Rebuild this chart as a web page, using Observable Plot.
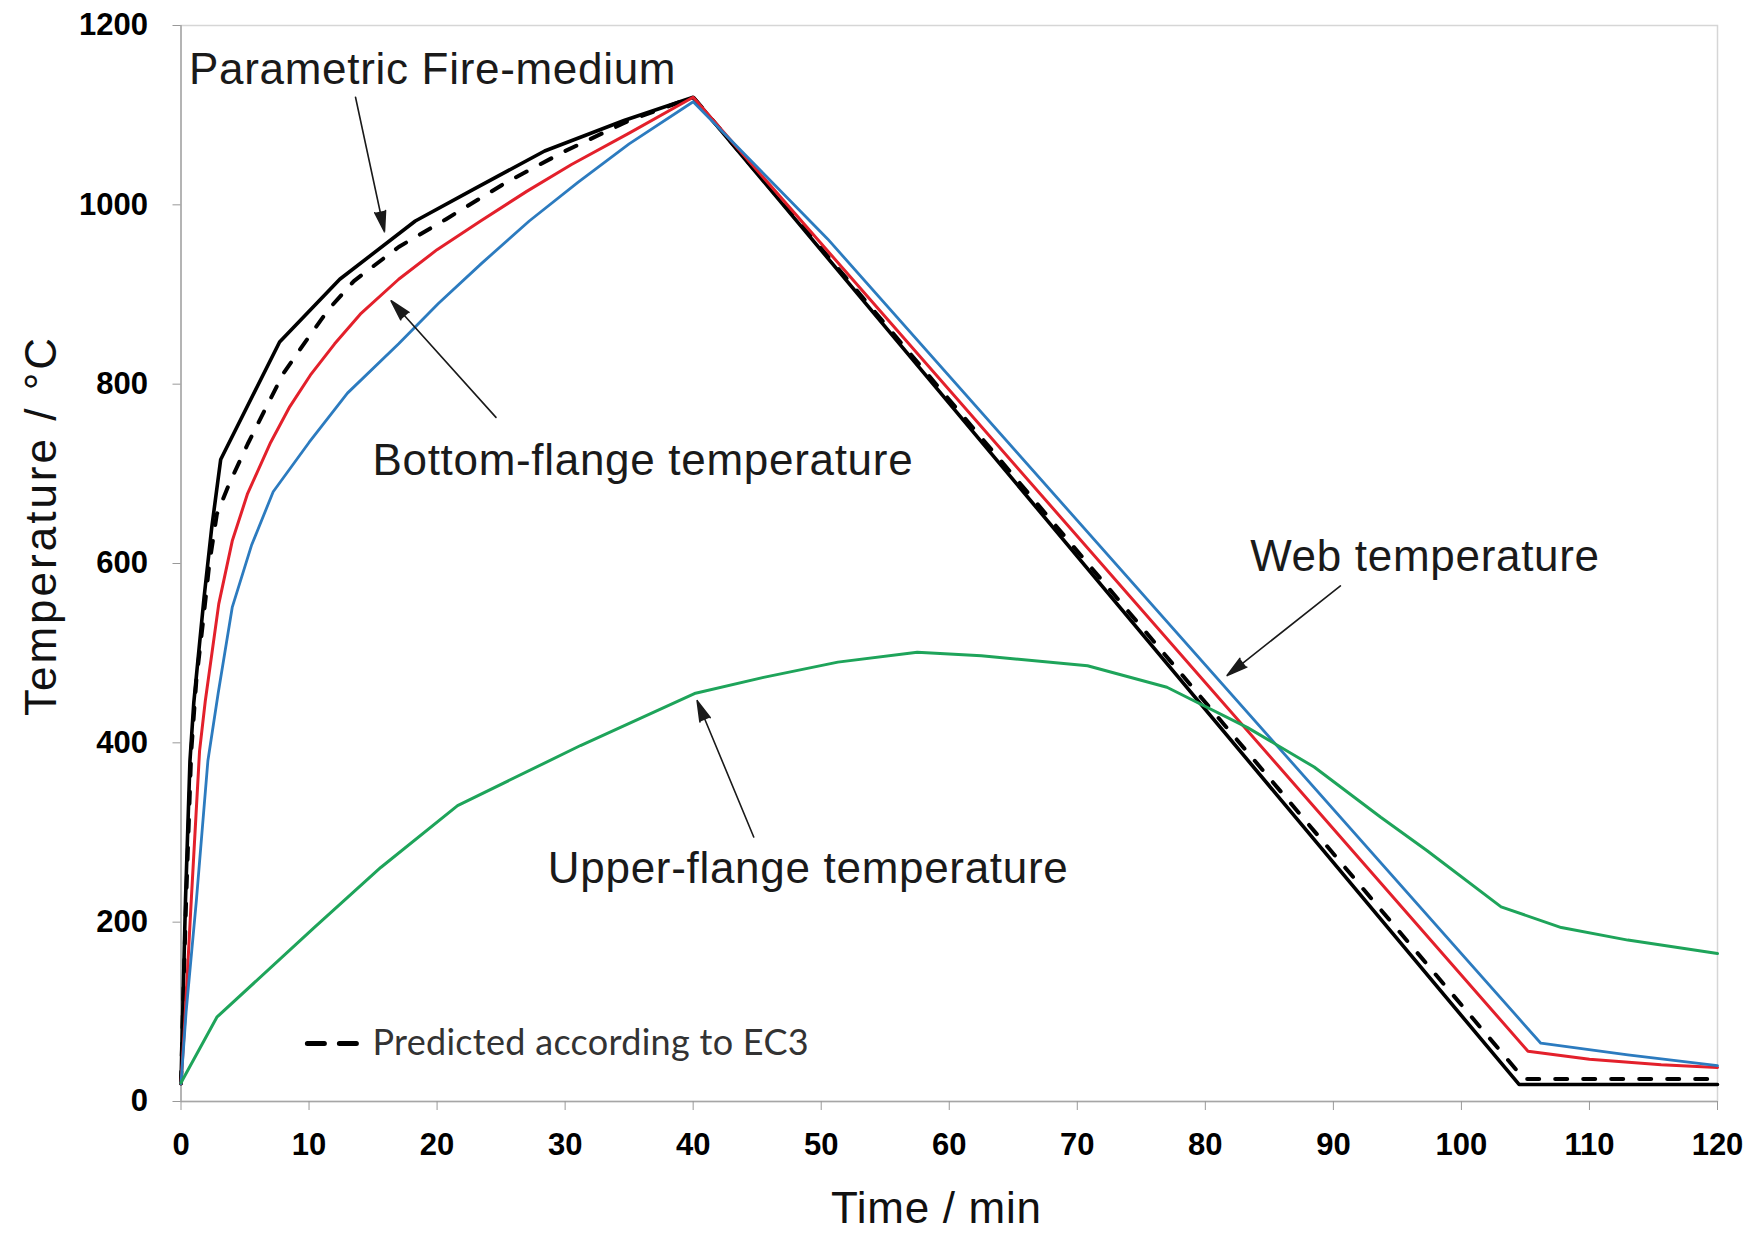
<!DOCTYPE html>
<html>
<head>
<meta charset="utf-8">
<script src="https://cdn.jsdelivr.net/npm/d3@7"></script>
<script src="https://cdn.jsdelivr.net/npm/@observablehq/plot@0.6"></script>
<style>
  html, body { margin: 0; padding: 0; background: #ffffff; }
  #chart { width: 1762px; height: 1234px; }
</style>
</head>
<body>
<div id="chart"></div>
<script>
// ---- Data (time in min, temperature in °C) ----
const xTicks = [0, 10, 20, 30, 40, 50, 60, 70, 80, 90, 100, 110, 120];
const yTicks = [0, 200, 400, 600, 800, 1000, 1200];

// Parametric fire - medium (black solid)
const fireMedium = [[0,20],[0.1,80],[0.35,224],[0.7,380],[1.0,445],[1.8,562],[2.4,640],[3.1,716],[7.7,847],[12.4,917],[18.3,982],[22.8,1017],[28.4,1060],[34.6,1094],[40,1120],[104.5,19],[120,19]];
// Predicted according to EC3 (black dashed)
const predictedEC3 = [[0,20],[0.15,100],[0.4,224],[0.8,390],[1.2,470],[1.8,545],[2.2,598],[2.8,655],[3.8,690],[5.2,733],[6.5,770],[8,812],[9.6,845],[11.5,883],[13.5,915],[17,953],[20.7,984],[25.4,1025],[30,1060],[35,1094],[40,1120],[104.9,25],[120,25]];
// Bottom-flange temperature (red)
const bottomFlange = [[0,20],[0.3,90],[0.8,224],[1.45,391],[1.9,447],[2.95,555],[4,625],[5.2,678],[7,735],[8.5,775],[10.1,810],[12,845],[14,878],[17,917],[20,950],[23.4,982],[27,1015],[30.5,1045],[35,1080],[40,1120],[105.2,56],[110,47],[115.6,41],[120,38]];
// Web temperature (blue)
const webTemp = [[0,20],[0.4,100],[1.2,224],[2.1,380],[2.9,455],[4.0,551],[5.5,620],[7.2,680],[10,735],[13,790],[17,845],[20.1,890],[23.5,935],[27.2,982],[31,1025],[35,1068],[40,1115],[50.5,962],[106.2,65],[113,52],[120,40]];
// Upper-flange temperature (green)
const upperFlange = [[0,21],[2.8,94],[10.4,194],[15.6,261],[21.6,330],[31.2,397],[40.1,455],[45.5,473],[51.3,490],[57.5,501],[62.5,497],[70.8,486],[77,462],[83.3,417],[88.5,373],[93.7,317],[97.3,280],[103.1,217],[107.8,194],[113,180],[120,165]];

// ---- Annotations ----
const annoLabels = ["Parametric Fire-medium", "Bottom-flange temperature", "Web temperature", "Upper-flange temperature"];
const annoX = [0.62, 14.95, 83.5, 28.65];
const annoY = [1151, 714, 607, 259];
const arrowFrom = [[13.63,1120],[24.6,763],[90.55,575],[44.73,295]];
const arrowTo   = [[15.89,970],[16.41,893],[81.7,475],[40.31,447]];
const legendText = "Predicted according to EC3";
const legendSwatch = [[9.87,64.7],[13.7,64.7]];
const legendTextPos = [14.95, 64.7];

const annotations = annoLabels.map((t, i) => ({text: t, x: annoX[i], y: annoY[i]}));
const arrows = arrowFrom.map((f, i) => ({x1: f[0], y1: f[1], x2: arrowTo[i][0], y2: arrowTo[i][1]}));

const px = d => d[0], py = d => d[1];

const chart = Plot.plot({
  width: 1762,
  height: 1234,
  marginLeft: 180.5,
  marginRight: 45,
  marginTop: 25,
  marginBottom: 133,
  style: {fontFamily: "'Liberation Sans', Arial, sans-serif", background: "#ffffff", color: "#000"},
  x: {domain: [0, 120]},
  y: {domain: [0, 1200]},
  marks: [
    Plot.frame({stroke: "#d6d6d6", strokeWidth: 1.5}),
    Plot.ruleX([0], {stroke: "#a6a6a6", strokeWidth: 1.5}),
    Plot.ruleY([0], {stroke: "#a6a6a6", strokeWidth: 1.5}),
    Plot.axisX(xTicks, {tickSize: 9, tickPadding: 22, fontSize: 31, fontWeight: "bold", stroke: "#999", fill: "#000", label: null, tickFormat: d3.format("d")}),
    Plot.axisY(yTicks, {tickSize: 8, tickPadding: 25, fontSize: 31, fontWeight: "bold", stroke: "#999", fill: "#000", label: null, tickFormat: d3.format("d")}),

    Plot.line(fireMedium, {x: px, y: py, stroke: "#000000", strokeWidth: 3.6}),
    Plot.line(predictedEC3, {x: px, y: py, stroke: "#000000", strokeWidth: 4, strokeDasharray: "12,16"}),
    Plot.line(bottomFlange, {x: px, y: py, stroke: "#e3202b", strokeWidth: 3}),
    Plot.line(webTemp, {x: px, y: py, stroke: "#2c7bbf", strokeWidth: 2.8}),
    Plot.line(upperFlange, {x: px, y: py, stroke: "#1ea45a", strokeWidth: 3}),

    Plot.arrow(arrows, {x1: "x1", y1: "y1", x2: "x2", y2: "y2", stroke: "#1a1a1a", strokeWidth: 1.6, headLength: 20, headAngle: 30, ariaDescription: "arrows"}),
    Plot.text(annotations, {x: "x", y: "y", text: "text", textAnchor: "start", fontSize: 44, fill: "#1a1a1a", ariaDescription: "anno"}),

    Plot.line(legendSwatch, {x: px, y: py, stroke: "#000", strokeWidth: 5, strokeDasharray: "17,15"}),
    Plot.text([legendText], {x: () => legendTextPos[0], y: () => legendTextPos[1], textAnchor: "start", fontSize: 36, fill: "#333", fontFamily: "Lato, 'Open Sans', sans-serif", ariaDescription: "legend"}),

    Plot.text(["Temperature / °C"], {frameAnchor: "left", dx: -139, dy: -38, rotate: -90, textAnchor: "middle", fontSize: 44, fill: "#111", ariaDescription: "ylab"}),
    Plot.text(["Time / min"], {frameAnchor: "bottom", dx: -13, dy: 121, textAnchor: "middle", fontSize: 44, fill: "#111", ariaDescription: "anno"})
  ]
});

const root = d3.select(chart);
root.selectAll('g[aria-description="anno"] text').style("letter-spacing", "0.7px");
root.selectAll('g[aria-description="ylab"] text').style("letter-spacing", "3px");
root.selectAll('g[aria-description="legend"] text').style("letter-spacing", "0.3px");
root.selectAll('g[aria-description="arrows"] path').attr("fill", "#1a1a1a").attr("stroke-linejoin", "miter");
document.getElementById("chart").appendChild(chart);
</script>
</body>
</html>
